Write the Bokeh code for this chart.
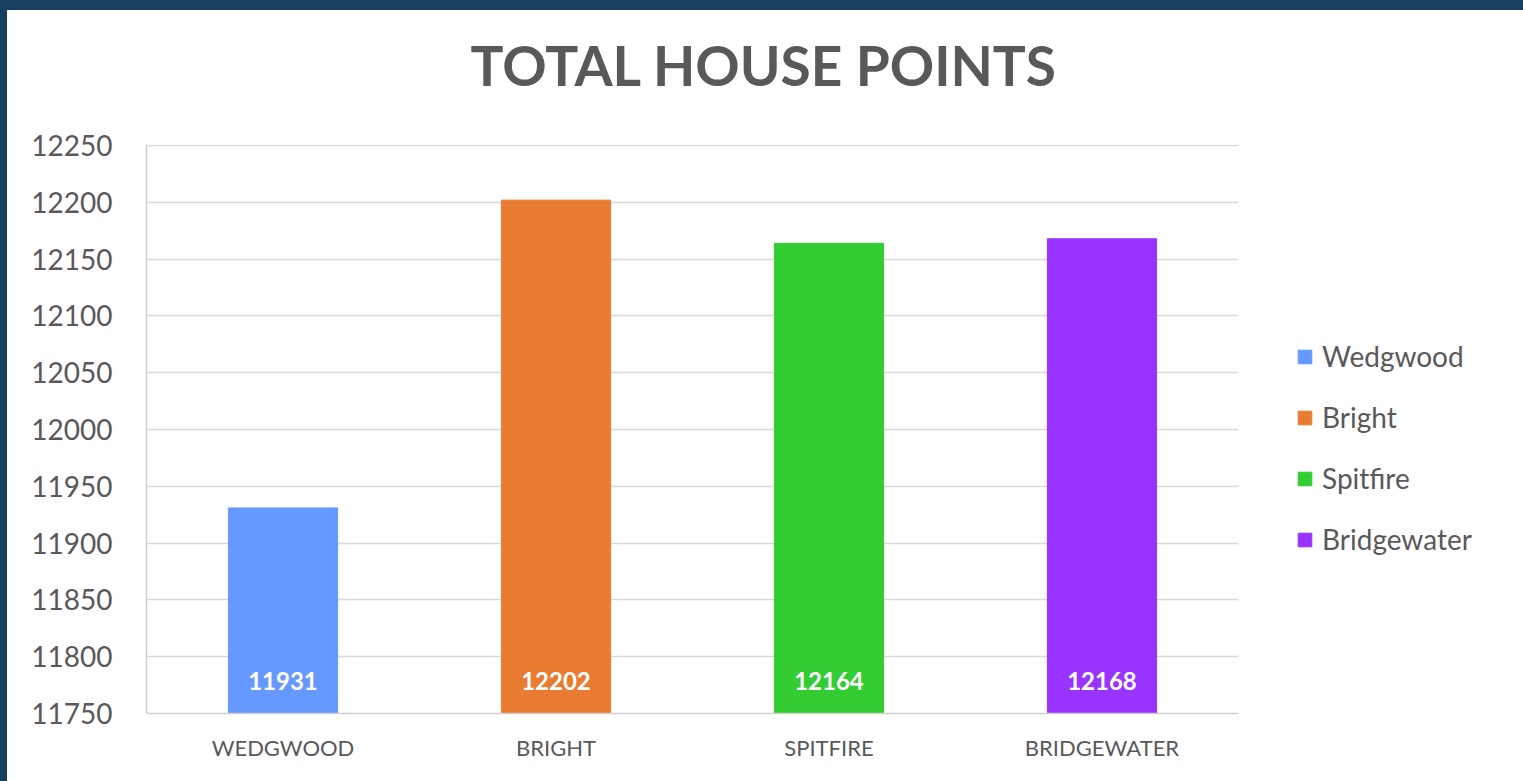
from bokeh.plotting import figure
from bokeh.models import ColumnDataSource, Range1d, Legend, LegendItem, LabelSet, Title, FixedTicker
from bokeh.core.properties import value
from bokeh.layouts import column
from bokeh.embed import file_html
from bokeh.resources import INLINE

houses = ["Wedgwood", "Bright", "Spitfire", "Bridgewater"]
axis_labels = ["WEDGWOOD", "BRIGHT", "SPITFIRE", "BRIDGEWATER"]
points = [11931, 12202, 12164, 12168]
colors = ["#6699FF", "#E97C30", "#33CC33", "#9933FF"]
y_ticks = [11750, 11800, 11850, 11900, 11950, 12000, 12050, 12100, 12150, 12200, 12250]

FONT = "Lato"
GRAY = "#595959"

src = ColumnDataSource(dict(
    cat=axis_labels, house=houses, pts=points, color=colors,
    base=[y_ticks[0]] * len(points), label=[str(v) for v in points],
))

# a hair of headroom so the top gridline is not clipped by the frame
p = figure(x_range=axis_labels, y_range=Range1d(y_ticks[0], y_ticks[-1] + 1),
           frame_width=1092, frame_height=569,
           min_border_left=139, min_border_right=282, min_border_top=134, min_border_bottom=68,
           output_backend="svg", toolbar_location=None,
           outline_line_color=None)
p.margin = (10, 3, 0, 7)
p.styles = {"background-color": "white"}
p.background_fill_color = "white"
p.border_fill_color = "white"

# small spacer next to the frame, then the main title further out
p.add_layout(Title(text=" ", text_font=FONT, text_font_size="10px", standoff=15), "above")
p.add_layout(Title(text="TOTAL HOUSE POINTS", align="left", offset=324,
                   text_font=FONT, text_font_size="55px", text_font_style="bold",
                   text_color=GRAY, standoff=36), "above")

r = p.vbar(x="cat", top="pts", bottom="base", width=0.4, color="color", source=src)

labels = LabelSet(x="cat", y="base", text="label", source=src, y_offset=33,
                  text_align="center", text_baseline="middle", text_color="white",
                  text_font=value(FONT), text_font_size="24px", text_font_style="bold")
p.add_layout(labels)

p.yaxis.ticker = FixedTicker(ticks=y_ticks)
p.ygrid.ticker = FixedTicker(ticks=y_ticks)
p.ygrid.grid_line_color = "#d9d9d9"
p.ygrid.grid_line_width = 1.5
p.xgrid.visible = False

for ax in (p.xaxis[0], p.yaxis[0]):
    ax.major_tick_line_color = None
    ax.minor_tick_line_color = None
    ax.axis_line_color = "#d0d0d0"
    ax.axis_line_width = 1.5
    ax.major_label_text_color = GRAY
    ax.major_label_text_font = FONT

p.yaxis.major_label_text_font_size = "28px"
p.yaxis.major_label_standoff = 28
p.xaxis.major_label_text_font_size = "22px"
p.xaxis.major_label_standoff = 14

items = [LegendItem(label=h, renderers=[r], index=i) for i, h in enumerate(houses)]
legend = Legend(items=items, location=(58, 157), orientation="vertical",
                glyph_width=17, glyph_height=17, label_height=20, spacing=27,
                label_standoff=9, padding=0, margin=0,
                border_line_alpha=0, background_fill_alpha=0,
                label_text_font=FONT, label_text_font_size="28px",
                label_text_color=GRAY, label_text_baseline="middle")
p.add_layout(legend, "right")

layout = column(p, styles={"background-color": "#173F5F"})

open("out.html", "w").write(file_html(layout, INLINE))
